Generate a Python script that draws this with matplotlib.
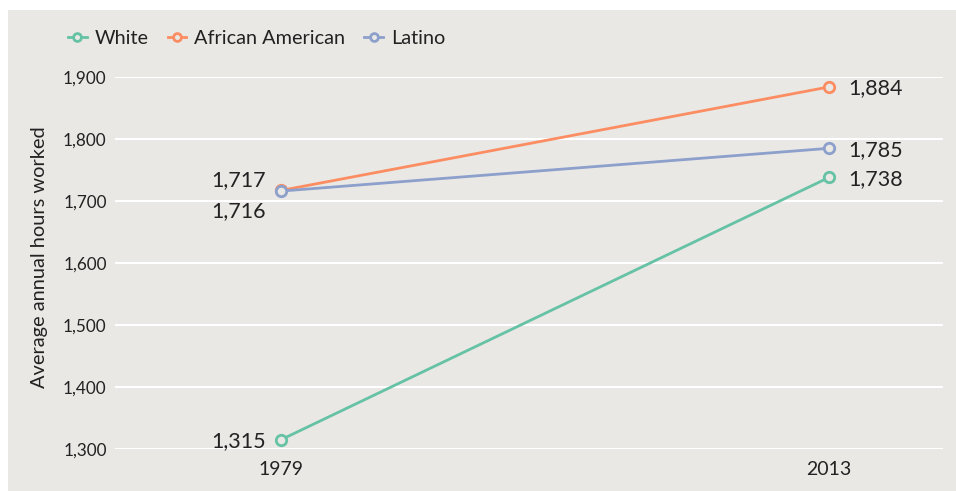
import matplotlib.pyplot as plt
from matplotlib.patches import Rectangle
from matplotlib.ticker import FuncFormatter

plt.rcParams['font.family'] = ['Lato', 'DejaVu Sans']

# Average annual hours worked, 1979 vs 2013
years = ['1979', '2013']
groups = ['White', 'African American', 'Latino']
white = [1315, 1738]
african_american = [1717, 1884]
latino = [1716, 1785]
colors = ['#66c2a5', '#fc8d62', '#8da0cb']
bg = '#e9e8e5'

fig = plt.figure(figsize=(9.56, 4.91), dpi=100)
fig.patch.set_facecolor('white')
fig.patches.append(Rectangle((8 / 956, 0), 1, 1 - 10 / 491, transform=fig.transFigure,
                             facecolor=bg, edgecolor='none', zorder=-10))

ax = fig.add_axes([115 / 956, 1 - 449 / 491, (943 - 115) / 956, (449 - 77) / 491])
ax.set_facecolor(bg)
ax.patch.set_alpha(0)

x = [0, 1]
series = [white, african_american, latino]
lines = []
for vals, name, c in zip(series, groups, colors):
    ln, = ax.plot(x, vals, color=c, lw=2, marker='o', ms=7.5, mfc=bg, mec=c, mew=2,
                  label=name, clip_on=False, zorder=3)
    lines.append(ln)

# value labels
lab = dict(fontsize=15.5, color='#222222', va='center')
ax.annotate(f'{white[0]:,}', (0, white[0]), xytext=(-11, -1), textcoords='offset points', ha='right', **lab)
ax.annotate(f'{african_american[0]:,}', (0, african_american[0]), xytext=(-11, 7.5), textcoords='offset points', ha='right', **lab)
ax.annotate(f'{latino[0]:,}', (0, latino[0]), xytext=(-11, -14.5), textcoords='offset points', ha='right', **lab)
for vals in series:
    ax.annotate(f'{vals[1]:,}', (1, vals[1]), xytext=(14, -1), textcoords='offset points', ha='left', **lab)

ax.set_xlim(-0.303, 0.208 + 1)
ax.set_ylim(1300, 1900)
ax.set_yticks(range(1300, 1901, 100))
ax.yaxis.set_major_formatter(FuncFormatter(lambda v, p: f'{int(v):,}'))
ax.set_xticks(x)
ax.set_xticklabels(years)
ax.tick_params(axis='both', length=0, colors='#222222')
ax.tick_params(axis='y', labelsize=12.3, pad=6)
ax.tick_params(axis='x', labelsize=14, pad=8.5)
ax.grid(axis='y', color='white', lw=1.5, zorder=0)
for s in ax.spines.values():
    s.set_visible(False)
ax.set_ylabel('Average annual hours worked', fontsize=14.4, color='#222222')
ax.yaxis.set_label_coords(-0.081, 0.515)

leg = fig.legend(handles=lines, loc='center left', bbox_to_anchor=(50 / 956, 1 - 38 / 491),
                 ncol=3, frameon=False, fontsize=14.3, handlelength=0.95, handletextpad=0.4,
                 columnspacing=0.95, markerscale=0.75)
for t in leg.get_texts():
    t.set_color('#222222')

fig.savefig('out.png', dpi=100, facecolor=fig.get_facecolor())
